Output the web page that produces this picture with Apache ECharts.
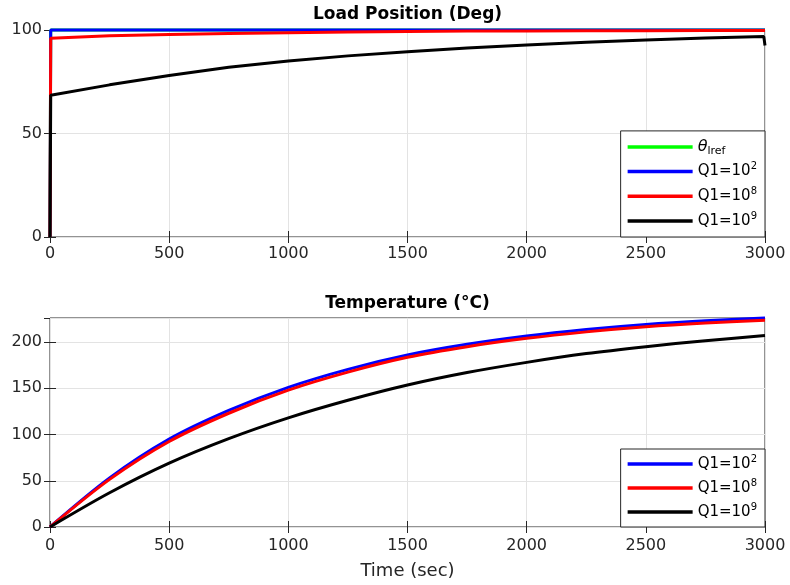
<!DOCTYPE html>
<html>
<head>
<meta charset="utf-8">
<script src="https://cdn.jsdelivr.net/npm/echarts@6/dist/echarts.min.js"></script>
<style>html,body{margin:0;padding:0;background:#fff}#c{width:790px;height:585px}</style>
</head>
<body>
<div id="c"></div>
<script>
// ---- data ----
const xTicks = [0, 500, 1000, 1500, 2000, 2500, 3000];
const posTicks = [0, 50, 100];
const tempTicks = [0, 50, 100, 150, 200];

const tPos   = [0, 3, 250, 500, 750, 1000, 1250, 1500, 1750, 2000, 2250, 2500, 2750, 2995, 3000];
const posRef = [0, 100, 100, 100, 100, 100, 100, 100, 100, 100, 100, 100, 100, 100, 100];
const posQ2  = [0, 100, 100, 100, 100, 100, 100, 100, 100, 100, 100, 100, 100, 100, 100];
const posQ8  = [0, 96, 97.2, 97.8, 98.3, 98.7, 99.0, 99.3, 99.5, 99.55, 99.6, 99.65, 99.7, 99.7, 99.7];
const posQ9  = [0, 68.5, 73.5, 78, 82, 85, 87.5, 89.5, 91.3, 92.8, 94.1, 95.2, 96.1, 96.8, 92.5];

const tTemp  = [0, 250, 500, 750, 1000, 1250, 1500, 1750, 2000, 2250, 2500, 2750, 3000];
const tempQ2 = [0, 53, 95, 126, 151, 170.5, 186, 197.5, 206.5, 213.5, 219, 223, 226];
const tempQ8 = [0, 51.5, 92.5, 123, 148, 167.5, 183.5, 195, 204, 211, 216.5, 220.5, 223.5];
const tempQ9 = [0, 37, 69, 95.5, 118, 137, 153.5, 167, 178, 187.5, 195, 201.5, 207];

const names = ['θlref', 'Q1=10^2', 'Q1=10^8', 'Q1=10^9'];
const colors = ['#00ff00', '#0000ff', '#ff0000', '#000000'];

// ---- chart ----
const zip = (xs, ys) => xs.map((x, i) => [x, ys[i]]);
const AX = '#262626';
const FF = 'DejaVu Sans';
const grids = [
  {left: 50, top: 30, width: 715, height: 207, show: true, borderColor: AX, borderWidth: 1},
  {left: 50, top: 318, width: 715, height: 209, show: true, borderColor: AX, borderWidth: 1}
];
const plain = v => String(v);
function xAx(gi, main, margin) {
  return {
    type: 'value', gridIndex: gi, min: 0, max: 3000, interval: 500,
    position: main ? 'bottom' : 'top',
    axisLine: {show: false},
    axisTick: {show: true, inside: true, length: 6, lineStyle: {color: AX}},
    axisLabel: {show: main, color: AX, fontFamily: FF, fontSize: 16, margin: margin, formatter: plain},
    splitLine: {show: main, lineStyle: {color: '#e3e3e3'}}
  };
}
function yAx(gi, main, max) {
  return {
    type: 'value', gridIndex: gi, min: 0, max: max, interval: 50,
    position: main ? 'left' : 'right',
    axisLine: {show: false},
    axisTick: {show: true, inside: true, length: 6, lineStyle: {color: AX}},
    axisLabel: {show: main, color: AX, fontFamily: FF, fontSize: 16, margin: 8, showMaxLabel: max === 100, formatter: plain},
    splitLine: {show: main, lineStyle: {color: '#e3e3e3'}}
  };
}
const xAxes = [xAx(0, true, 9), xAx(0, false, 9), xAx(1, true, 11), xAx(1, false, 11)];
xAxes[2].name = 'Time (sec)';
xAxes[2].nameLocation = 'middle';
xAxes[2].nameGap = 35;
xAxes[2].nameTextStyle = {color: AX, fontFamily: FF, fontSize: 18};
const yAxes = [yAx(0, true, 100), yAx(0, false, 100), yAx(1, true, 226), yAx(1, false, 226)];

function ser(name, color, data, xi, yi, smooth) {
  return {
    type: 'line', name: name, data: data, xAxisIndex: xi, yAxisIndex: yi,
    showSymbol: false, symbol: 'none', clip: false, smooth: smooth,
    lineStyle: {color: color, width: 3}, itemStyle: {color: color}, emphasis: {disabled: true}
  };
}
const series = [
  ser(names[0], colors[0], zip(tPos, posRef), 0, 0, false),
  ser(names[1], colors[1], zip(tPos, posQ2), 0, 0, false),
  ser(names[2], colors[2], zip(tPos, posQ8), 0, 0, false),
  ser(names[3], colors[3], zip(tPos, posQ9), 0, 0, false),
  ser(names[1], colors[1], zip(tTemp, tempQ2), 2, 2, 0.3),
  ser(names[2], colors[2], zip(tTemp, tempQ8), 2, 2, 0.3),
  ser(names[3], colors[3], zip(tTemp, tempQ9), 2, 2, 0.3)
];

const rich = {
  it: {fontStyle: 'italic', fontSize: 16, fontFamily: FF, color: '#000', lineHeight: 20},
  sub: {fontSize: 11, fontFamily: FF, color: '#000', lineHeight: 8, verticalAlign: 'bottom'},
  sup: {fontSize: 10, fontFamily: FF, color: '#000', lineHeight: 12, verticalAlign: 'top'}
};
function fmt(n) {
  if (n === names[0]) return '{it|θ}{sub|lref}';
  const p = n.split('^');
  return p[0] + '{sup|' + p[1] + '}';
}
function legend(data, bottom, gap, pad) {
  return {
    data: data, orient: 'vertical', right: 25, bottom: bottom,
    icon: 'rect', itemWidth: 65, itemHeight: 3.5, itemGap: gap,
    padding: pad, backgroundColor: '#fff', borderColor: AX, borderWidth: 1, borderRadius: 0,
    selectedMode: false, formatter: fmt,
    textStyle: {color: '#000', fontFamily: FF, fontSize: 15, lineHeight: 20, rich: rich}
  };
}

const chart = echarts.init(document.getElementById('c'), null, {renderer: 'canvas'});
chart.setOption({
  animation: false,
  backgroundColor: '#fff',
  grid: grids,
  xAxis: xAxes,
  yAxis: yAxes,
  series: series,
  legend: [
    legend(names, 348, 4.7, [6, 8, 6, 7]),
    legend(names.slice(1), 58, 4, [5, 8, 5, 7])
  ],
  graphic: [
    {type: 'text', x: 407.5, y: 15, style: {text: 'Load Position (Deg)', align: 'center', verticalAlign: 'middle',
      fontFamily: FF, fontWeight: 'bold', fontSize: 17, fill: '#000'}},
    {type: 'text', x: 407.5, y: 304, style: {text: 'Temperature (°C)', align: 'center', verticalAlign: 'middle',
      fontFamily: FF, fontWeight: 'bold', fontSize: 17, fill: '#000'}}
  ]
});
</script>
</body>
</html>
